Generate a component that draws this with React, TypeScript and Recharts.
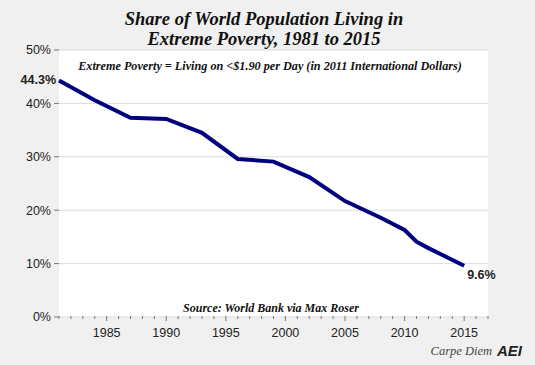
import React from 'react';
import { LineChart, Line, XAxis, YAxis, CartesianGrid, LabelList } from 'recharts';

const years = [1981, 1984, 1987, 1990, 1993, 1996, 1999, 2002, 2005, 2008, 2010, 2011, 2012, 2013, 2015];
const povertyShare = [44.3, 40.6, 37.3, 37.1, 34.5, 29.6, 29.1, 26.2, 21.7, 18.6, 16.3, 14.1, 12.9, 11.8, 9.6];
const yTicks = [0, 10, 20, 30, 40, 50];
const xTickYears = [1981, 1982, 1983, 1984, 1985, 1986, 1987, 1988, 1989, 1990, 1991, 1992, 1993, 1994, 1995, 1996, 1997, 1998, 1999, 2000, 2001, 2002, 2003, 2004, 2005, 2006, 2007, 2008, 2009, 2010, 2011, 2012, 2013, 2014, 2015, 2016, 2017];
const titleLines = ['Share of World Population Living in', 'Extreme Poverty, 1981 to 2015'];
const subtitle = 'Extreme Poverty = Living on <$1.90 per Day (in 2011 International Dollars)';
const source = 'Source: World Bank via Max Roser';

const data = years.map((y, i) => ({ year: y, value: povertyShare[i] }));

const serif = '"Liberation Serif", "DejaVu Serif", serif';
const sans = '"Liberation Sans", Arial, sans-serif';

const XTick = (props: any) => {
  const { x, y, payload } = props;
  const v = payload.value as number;
  const major = v % 5 === 0;
  return (
    <g>
      <line x1={x} x2={x} y1={y - 1} y2={y + (major ? 4 : 2)} stroke="#777" strokeWidth={1} />
      {major && (
        <text x={x} y={y + 20} textAnchor="middle" fontFamily={sans} fontSize={12.5} fill="#222">
          {v}
        </text>
      )}
    </g>
  );
};

const EndLabel = (props: any) => {
  const { x, y, index, value } = props;
  if (index === 0) {
    return (
      <text x={x - 3} y={y + 4} textAnchor="end" fontFamily={sans} fontWeight="bold" fontSize={12.5} fill="#222">
        {value}%
      </text>
    );
  }
  if (index === data.length - 1) {
    return (
      <text x={x + 3} y={y + 13} textAnchor="start" fontFamily={sans} fontWeight="bold" fontSize={12.5} fill="#222">
        {value}%
      </text>
    );
  }
  return null;
};

export default function App() {
  return (
    <div style={{ position: 'absolute', left: 0, top: 0, width: 535, height: 365, background: '#f0f0f0' }}>
      <LineChart width={535} height={365} data={data} margin={{ top: 50, right: 47, bottom: 0, left: 0 }}>
        <CartesianGrid horizontal vertical={false} stroke="#dcdcdc" fill="#ffffff" />
        <XAxis
          dataKey="year"
          type="number"
          domain={[1981, 2017]}
          ticks={xTickYears}
          interval={0}
          tick={<XTick />}
          tickLine={false}
          axisLine={false}
          tickSize={0}
          tickMargin={0}
          height={48}
        />
        <YAxis
          type="number"
          domain={[0, 50]}
          ticks={yTicks}
          interval={0}
          tickFormatter={(v: number) => `${v}%`}
          tick={{ fontFamily: sans, fontSize: 12.5, fill: '#222' }}
          tickLine={{ stroke: '#777' }}
          tickSize={5}
          tickMargin={3}
          axisLine={false}
          width={59}
        />
        <Line type="linear" dataKey="value" stroke="#000080" strokeWidth={4} dot={false} isAnimationActive={false}>
          <LabelList dataKey="value" content={<EndLabel />} />
        </Line>
      </LineChart>
      <svg width={535} height={365} style={{ position: 'absolute', left: 0, top: 0, pointerEvents: 'none' }}>
        <text x={264} y={25} textAnchor="middle" fontFamily={serif} fontStyle="italic" fontWeight="bold" fontSize={18.5} fill="#111">
          {titleLines[0]}
        </text>
        <text x={264} y={45} textAnchor="middle" fontFamily={serif} fontStyle="italic" fontWeight="bold" fontSize={18.5} fill="#111">
          {titleLines[1]}
        </text>
        <text x={270} y={70} textAnchor="middle" fontFamily={serif} fontStyle="italic" fontWeight="bold" fontSize={12.2} fill="#111">
          {subtitle}
        </text>
        <text x={271} y={312} textAnchor="middle" fontFamily={serif} fontStyle="italic" fontWeight="bold" fontSize={12} fill="#111">
          {source}
        </text>
        <text x={492} y={355} textAnchor="end" fontFamily={serif} fontStyle="italic" fontSize={12.5} fill="#444">
          Carpe Diem
        </text>
        <text x={497} y={356} textAnchor="start" fontFamily={sans} fontStyle="italic" fontWeight="bold" fontSize={15} fill="#222">
          AEI
        </text>
      </svg>
    </div>
  );
}
